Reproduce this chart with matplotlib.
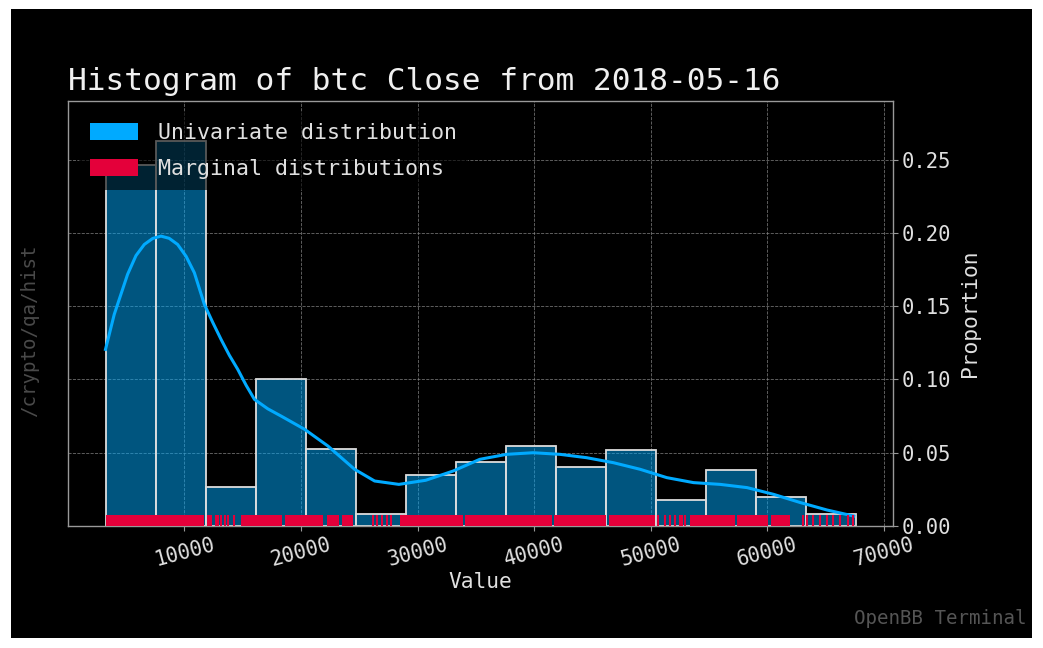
import numpy as np
import matplotlib
matplotlib.use("Agg")
import matplotlib.pyplot as plt
from matplotlib.patches import Patch, Rectangle

# histogram of btc close, 15 bins, proportion per bin
bin_lo = 3236.7
bin_hi = 67566.8
proportions = [0.246, 0.263, 0.0266, 0.100, 0.0528, 0.008, 0.0345, 0.0439,
               0.0546, 0.0405, 0.0516, 0.0177, 0.038, 0.020, 0.008]

# kde curve
kde_x = [3236, 3986, 5130, 5850, 6563, 7280, 7995, 8700, 9424, 10150,
         10858, 11717, 12430, 13150, 13860, 14580, 15300, 16013, 17150,
         18300, 20310, 22310, 24600, 26320, 28400, 30700, 33050, 35340,
         37640, 39920, 42220, 44510, 46800, 49090, 51380, 53670, 55960,
         58260, 60540, 62830, 65130, 67410]
kde_y = [0.1205, 0.1444, 0.1717, 0.1845, 0.1921, 0.1962, 0.1978, 0.1963,
         0.1921, 0.1840, 0.1728, 0.1512, 0.1390, 0.1273, 0.1165, 0.1069,
         0.0960, 0.0864, 0.0800, 0.075, 0.066, 0.0546, 0.0387, 0.0307,
         0.0284, 0.0312, 0.0375, 0.0455, 0.0489, 0.0500, 0.0489, 0.0466,
         0.0432, 0.0387, 0.033, 0.0296, 0.0284, 0.0262, 0.0216, 0.016,
         0.0109, 0.0068]

# rug: solid stretches (start, end) and single ticks
rug_spans = [(3240, 11700), (11900, 12400), (14896, 18400), (18600, 21854),
             (22198, 23300), (23500, 24432), (28470, 33900), (34100, 41500),
             (41700, 46200), (46400, 50380), (53380, 57200), (57400, 60100),
             (60300, 61970)]
rug_ticks = [12700, 12900, 13150, 13500, 13720, 14300, 26150, 26490, 26920,
             27350, 27690, 50630, 51230, 51660, 52090, 52520, 52690, 52950,
             63090, 63430, 63950, 64550, 65150, 65660, 66270, 66950, 67380]

xticks = [10000, 20000, 30000, 40000, 50000, 60000, 70000]
yticks = [0.00, 0.05, 0.10, 0.15, 0.20, 0.25]

FONT = "DejaVu Sans Mono"
plt.rcParams["font.family"] = FONT
TXT = "#e0e0e0"
BLUE = "#00AAFF"
RED = "#e4003a"

fig = plt.figure(figsize=(10.43, 6.48), dpi=100, facecolor="white")
fig.patches.append(Rectangle((11 / 1043, 10 / 648), 1021 / 1043, 629 / 648,
                             transform=fig.transFigure, facecolor="black",
                             edgecolor="none", zorder=-10))
ax = fig.add_axes([68 / 1043, 122 / 648, 825 / 1043, 425 / 648])
ax.set_facecolor("black")

edges = np.linspace(bin_lo, bin_hi, len(proportions) + 1)
ax.bar(edges[:-1], proportions, width=np.diff(edges), align="edge",
       color=(0, 0.667, 1, 0.5), edgecolor="#dddddd", linewidth=1.3, zorder=2)
ax.plot(kde_x, kde_y, color=BLUE, lw=2.2, zorder=3)

xa = ax.get_xaxis_transform()
ax.broken_barh([(a, b - a) for a, b in rug_spans], (0, 0.025),
               transform=xa, facecolor=RED, edgecolor="none", zorder=4)
ax.vlines(rug_ticks, 0, 0.025, transform=xa, color=RED, lw=1.5, zorder=4)

ax.set_xlim(20, 70782)
ax.set_ylim(0, 0.29)
ax.set_xticks(xticks)
ax.set_yticks(yticks)
ax.set_yticklabels([f"{v:.2f}" for v in yticks])
ax.yaxis.tick_right()
ax.yaxis.set_label_position("right")
ax.tick_params(axis="both", colors="#999999", labelcolor=TXT, labelsize=14.8,
               length=3.5, width=0.8)
ax.tick_params(axis="x", labelrotation=15, pad=3)
ax.tick_params(axis="y", pad=3)
for s in ax.spines.values():
    s.set_color("#999999")
    s.set_linewidth(1)
ax.grid(True, color="#888888", ls="--", lw=0.6, alpha=0.8, zorder=0)
ax.set_axisbelow(True)

ax.set_xlabel("Value", color=TXT, fontsize=15.3, labelpad=1)
ax.set_ylabel("Proportion", color=TXT, fontsize=15.3, labelpad=6)
ax.set_title("Histogram of btc Close from 2018-05-16", loc="left",
             color="#f0f0f0", fontsize=22.4, pad=8)

handles = [Patch(facecolor=BLUE, edgecolor="none"),
           Patch(facecolor=RED, edgecolor="none")]
leg = ax.legend(handles, ["Univariate distribution", "Marginal distributions"],
                loc="upper left", fontsize=15.6, handlelength=2.25,
                handleheight=0.85, handletextpad=0.9, labelspacing=0.75,
                borderpad=0.5, frameon=True, facecolor="black",
                edgecolor="none", framealpha=0.6)
for t in leg.get_texts():
    t.set_color(TXT)
leg.set_zorder(6)

fig.text(30 / 1043, 1 - 331 / 648, "/crypto/qa/hist", rotation=90,
         color="#4a4a4a", fontsize=13.8, ha="center", va="center")
fig.text(1027 / 1043, 1 - 619 / 648, "OpenBB Terminal", color="#555555",
         fontsize=13.8, ha="right", va="center")

fig.savefig("out.png", dpi=100, facecolor="white")
